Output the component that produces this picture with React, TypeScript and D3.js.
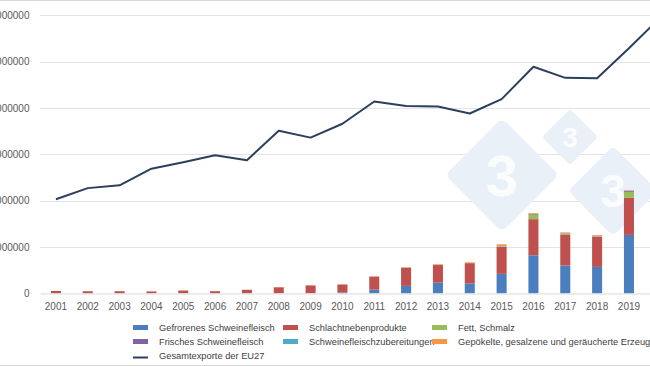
import React, { useEffect, useRef } from 'react';
import { select, scaleBand, scaleLinear, axisBottom, axisLeft, line, stack } from 'd3';

const years = ['2001', '2002', '2003', '2004', '2005', '2006', '2007', '2008', '2009', '2010',
    '2011', '2012', '2013', '2014', '2015', '2016', '2017', '2018', '2019', '2020'];

// Gesamtexporte der EU27 (t)
const totalExports = [2030000, 2270000, 2330000, 2690000, 2830000, 2980000, 2870000, 3510000, 3360000, 3660000,
    4140000, 4040000, 4030000, 3880000, 4190000, 4890000, 4650000, 4640000, 5290000, 5960000];

// bars, 2001-2019
const gefrorenes = [3000, 3000, 3000, 3000, 4000, 3000, 4000, 5000, 6000, 20000,
    80000, 160000, 230000, 210000, 420000, 820000, 600000, 570000, 1260000];
const schlachtneben = [47000, 42000, 42000, 37000, 56000, 42000, 71000, 125000, 164000, 170000,
    280000, 390000, 380000, 440000, 580000, 780000, 660000, 650000, 800000];
const fett = [0, 0, 0, 0, 0, 0, 0, 0, 0, 0,
    0, 2000, 3000, 3000, 10000, 90000, 20000, 5000, 130000];
const frisches = [0, 0, 0, 0, 0, 0, 0, 0, 0, 0,
    0, 0, 0, 0, 3000, 15000, 10000, 5000, 20000];
const zubereitungen = [0, 0, 0, 0, 0, 0, 0, 0, 0, 0,
    0, 1000, 1000, 1000, 5000, 5000, 5000, 5000, 5000];
const gepoekelte = [2000, 2000, 2000, 2000, 2000, 2000, 2000, 3000, 3000, 5000,
    8000, 12000, 15000, 15000, 40000, 20000, 20000, 20000, 10000];

const yTicks = [0, 1000000, 2000000, 3000000, 4000000, 5000000, 6000000];

const seriesNames = ['Gefrorenes Schweinefleisch', 'Schlachtnebenprodukte', 'Fett, Schmalz',
    'Frisches Schweinefleisch', 'Schweinefleischzubereitungen', 'Gepökelte, gesalzene und geräucherte Erzeugnisse'];
const seriesColors = ['#4a7ebf', '#c0504d', '#9bbb59', '#8064a2', '#4bacc6', '#f79646'];
const lineName = 'Gesamtexporte der EU27';
const lineColor = '#2b3f5e';

const W = 650;
const H = 366;
const font = '"Liberation Sans", Arial, sans-serif';

function App() {
    const ref = useRef<SVGSVGElement>(null);

    useEffect(() => {
        const svg = select(ref.current);
        svg.selectAll('*').remove();

        const left = 40;
        const right = 676.7;
        const x = scaleBand<string>()
            .domain(years)
            .range([left, right])
            .paddingInner(0.685)
            .paddingOuter(0.3425);
        const y = scaleLinear().domain([0, 6000000]).range([293.3, 15.3]);

        svg.append('rect').attr('x', -5).attr('y', 0.5).attr('width', W + 10).attr('height', H - 1)
            .attr('fill', '#fff').attr('stroke', '#d9d9d9');

        // gridlines
        svg.append('g')
            .selectAll('line')
            .data(yTicks.slice(1))
            .join('line')
            .attr('x1', left).attr('x2', right)
            .attr('y1', d => Math.round(y(d)) + 0.5).attr('y2', d => Math.round(y(d)) + 0.5)
            .attr('stroke', '#e3e3e3');

        // watermark
        const marks = [
            { cx: 502, cy: 175, r: 57, fs: 58 },
            { cx: 570, cy: 137, r: 28, fs: 28 },
            { cx: 613, cy: 191, r: 45, fs: 46 },
        ];
        const wm = svg.append('g');
        marks.forEach(m => {
            const s = m.r * Math.SQRT1_2 * 2;
            wm.append('rect')
                .attr('x', m.cx - s / 2).attr('y', m.cy - s / 2)
                .attr('width', s).attr('height', s)
                .attr('rx', s * 0.08)
                .attr('transform', `rotate(45 ${m.cx} ${m.cy})`)
                .attr('fill', '#e9f0f8');
            wm.append('text')
                .attr('x', m.cx).attr('y', m.cy)
                .attr('text-anchor', 'middle')
                .attr('dominant-baseline', 'central')
                .attr('font-family', font)
                .attr('font-weight', 'bold')
                .attr('font-size', m.fs)
                .attr('fill', '#fbfcfe')
                .text('3');
        });

        // stacked bars
        const rows = years.slice(0, gefrorenes.length).map((yr, i) => ({
            yr,
            s0: gefrorenes[i], s1: schlachtneben[i], s2: fett[i],
            s3: frisches[i], s4: zubereitungen[i], s5: gepoekelte[i],
        }));
        const stacked = stack<any>().keys(['s0', 's1', 's2', 's3', 's4', 's5'])(rows);
        svg.append('g')
            .selectAll('g')
            .data(stacked)
            .join('g')
            .attr('fill', (d, i) => seriesColors[i])
            .selectAll('rect')
            .data(d => d)
            .join('rect')
            .attr('x', d => x(d.data.yr))
            .attr('width', x.bandwidth())
            .attr('y', d => y(d[1]))
            .attr('height', d => Math.max(0, y(d[0]) - y(d[1])));

        // x axis (2020 lies beyond the right edge, its label is not shown)
        const gx = svg.append('g')
            .attr('transform', `translate(0,${Math.round(y(0)) + 0.5})`)
            .call(axisBottom(x).tickValues(years.slice(0, -1)).tickSize(0).tickPadding(9));
        gx.select('.domain').attr('stroke', '#d9d9d9');
        gx.selectAll('text').attr('fill', '#595959').attr('font-size', 10).attr('font-family', font);

        // y axis
        const gy = svg.append('g')
            .attr('transform', `translate(${left},0)`)
            .call(axisLeft(y).tickValues(yTicks).tickSize(0).tickPadding(10.5).tickFormat(d => String(d)));
        gy.select('.domain').remove();
        gy.selectAll('text').attr('fill', '#595959').attr('font-size', 10).attr('font-family', font);

        // total line
        svg.append('path')
            .datum(totalExports)
            .attr('fill', 'none')
            .attr('stroke', lineColor)
            .attr('stroke-width', 2)
            .attr('stroke-linejoin', 'round')
            .attr('d', line<number>()
                .x((d, i) => (x(years[i]) as number) + x.bandwidth() / 2)
                .y(d => y(d)));

        // legend
        const colX = [133, 283, 432];
        const rowY = [327.5, 341.5, 356];
        const lg = svg.append('g').attr('font-family', font).attr('font-size', 9.3).attr('fill', '#404040');
        seriesNames.forEach((name, i) => {
            const cx = colX[i % 3];
            const cy = rowY[Math.floor(i / 3)];
            lg.append('rect').attr('x', cx).attr('y', cy - 2.5).attr('width', 15).attr('height', 5)
                .attr('fill', seriesColors[i]);
            lg.append('text').attr('x', cx + 26).attr('y', cy).attr('dominant-baseline', 'central').text(name);
        });
        lg.append('line').attr('x1', colX[0]).attr('x2', colX[0] + 15)
            .attr('y1', rowY[2] + 1.5).attr('y2', rowY[2] + 1.5)
            .attr('stroke', lineColor).attr('stroke-width', 2);
        lg.append('text').attr('x', colX[0] + 26).attr('y', rowY[2]).attr('dominant-baseline', 'central').text(lineName);
    }, []);

    return (
        <svg ref={ref} width={W} height={H}
            style={{ position: 'absolute', left: 0, top: 0, background: '#fff', overflow: 'hidden' }} />
    );
}

export default App;
